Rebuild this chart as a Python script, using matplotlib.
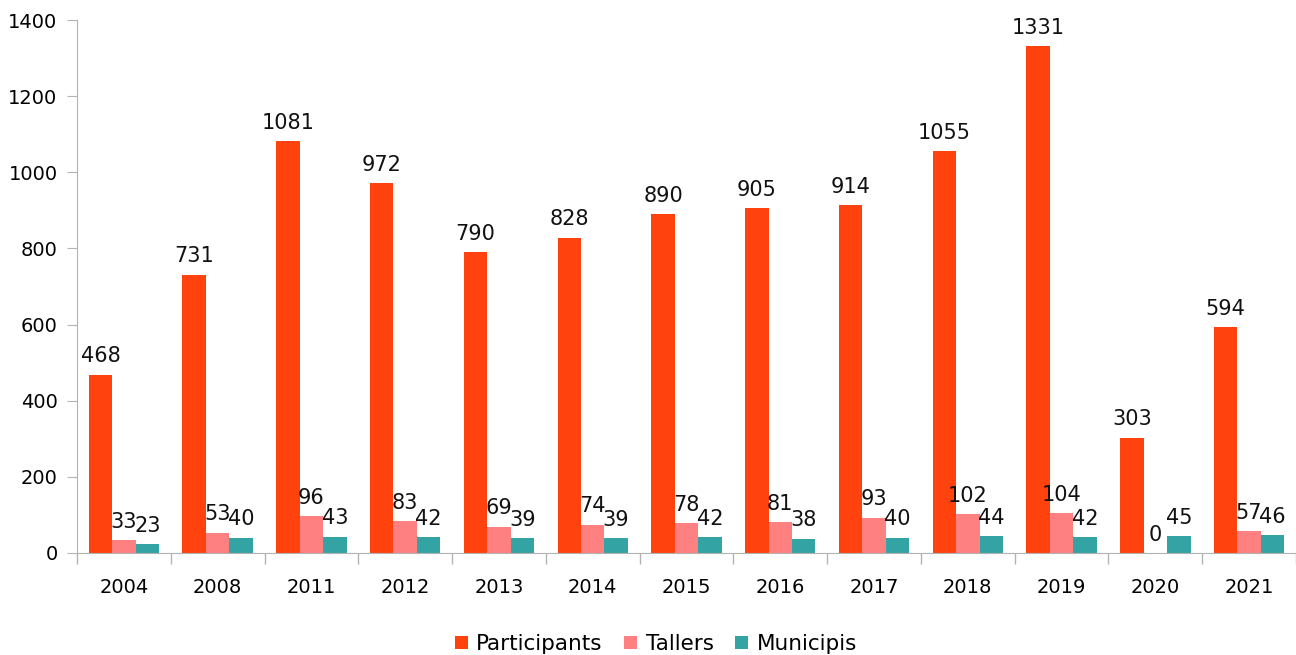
import matplotlib.pyplot as plt
import numpy as np

years = ['2004', '2008', '2011', '2012', '2013', '2014', '2015',
         '2016', '2017', '2018', '2019', '2020', '2021']
participants = [468, 731, 1081, 972, 790, 828, 890, 905, 914, 1055, 1331, 303, 594]
tallers = [33, 53, 96, 83, 69, 74, 78, 81, 93, 102, 104, 0, 57]
municipis = [23, 40, 43, 42, 39, 39, 42, 38, 40, 44, 42, 45, 46]

series = [('Participants', participants, '#FF420E'),
          ('Tallers', tallers, '#FF8080'),
          ('Municipis', municipis, '#33A3A3')]

plt.rcParams['font.family'] = ['DejaVu Sans']

fig = plt.figure(figsize=(12.96, 6.55), dpi=100)
ax = fig.add_axes([77 / 1296, 102 / 655, 1219 / 1296, 533 / 655])

x = np.arange(len(years))
w = 0.25
for i, (name, vals, color) in enumerate(series):
    pos = x + (i - 1) * w
    bars = ax.bar(pos, vals, w, color=color, label=name, zorder=2)
    for b, v in zip(bars, vals):
        ax.annotate(str(v), (b.get_x() + b.get_width() / 2, v),
                    xytext=(0, 6), textcoords='offset points',
                    ha='center', va='bottom', fontsize=15, color='#111111')

ax.set_xlim(-0.5, len(years) - 0.5)
ax.set_ylim(0, 1400)
ax.set_yticks(range(0, 1401, 200))
ax.set_xticks(x)
ax.set_xticklabels(years)
ax.set_xticks(np.arange(-0.5, len(years)), minor=True)

gray = '#b3b3b3'
for s in ['top', 'right']:
    ax.spines[s].set_visible(False)
for s in ['left', 'bottom']:
    ax.spines[s].set_color(gray)

ax.tick_params(axis='x', which='major', length=0, pad=18, labelsize=14)
ax.tick_params(axis='x', which='minor', length=8, color=gray, width=1)
ax.tick_params(axis='y', length=7, color=gray, pad=7, labelsize=14)

ax.legend(loc='lower center', bbox_to_anchor=(0.475, -0.21), ncol=3,
          frameon=False, fontsize=15.5, handlelength=0.6, handleheight=0.6,
          handletextpad=0.4, columnspacing=1.0, borderpad=0)

fig.savefig('out.png', dpi=100)
